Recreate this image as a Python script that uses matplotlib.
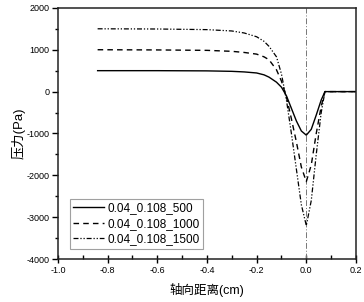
import numpy as np
import matplotlib.pyplot as plt
from matplotlib.ticker import MultipleLocator

plt.rcParams['font.family'] = ['Liberation Sans', 'Noto Sans CJK SC', 'DejaVu Sans']
plt.rcParams['axes.unicode_minus'] = False

# axial distance (cm) and pressure (Pa)
x_500 = [-0.84, -0.6, -0.4, -0.3, -0.25, -0.2, -0.17, -0.15, -0.12, -0.1, -0.08, -0.06, -0.04,
         -0.02, 0.0, 0.02, 0.04, 0.06, 0.075, 0.2]
p_500 = [500, 500, 495, 484, 470, 445, 400, 345, 225, 105, -100, -400, -700,
         -940, -1040, -900, -560, -200, 0, 0]

x_1000 = [-0.84, -0.6, -0.4, -0.3, -0.25, -0.2, -0.17, -0.15, -0.12, -0.1, -0.08, -0.06, -0.04,
          -0.02, 0.0, 0.02, 0.04, 0.06, 0.075, 0.2]
p_1000 = [1000, 995, 985, 962, 935, 895, 830, 760, 520, 250, -130, -650, -1200,
          -1800, -2150, -1750, -1000, -350, 0, 0]

x_1500 = [-0.84, -0.6, -0.4, -0.3, -0.25, -0.2, -0.17, -0.15, -0.12, -0.1, -0.08, -0.06, -0.04,
          -0.02, 0.0, 0.02, 0.04, 0.06, 0.075, 0.2]
p_1500 = [1500, 1495, 1480, 1448, 1400, 1310, 1200, 1080, 830, 420, -200, -1000, -1850,
          -2700, -3200, -2600, -1500, -500, 0, 0]

labels = ['0.04_0.108_500', '0.04_0.108_1000', '0.04_0.108_1500']

fig = plt.figure(figsize=(3.64, 3.02), dpi=100)
ax = fig.add_axes([0.159, 0.142, 0.819, 0.832])

ax.axvline(0, color='#777777', lw=0.7, ls=(0, (6, 2, 1, 2)))
ax.plot(x_500, p_500, color='black', lw=1.0, label=labels[0])
ax.plot(x_1000, p_1000, color='black', lw=1.0, ls=(0, (4, 3)), label=labels[1])
ax.plot(x_1500, p_1500, color='black', lw=0.9, ls=(0, (4, 1.5, 1, 1.5, 1, 1.5)), label=labels[2])

ax.set_xlim(-1.0, 0.2)
ax.set_ylim(-4000, 2000)
ax.xaxis.set_major_locator(MultipleLocator(0.2))
ax.xaxis.set_minor_locator(MultipleLocator(0.1))
ax.yaxis.set_major_locator(MultipleLocator(1000))
ax.yaxis.set_minor_locator(MultipleLocator(500))
ax.xaxis.set_major_formatter(plt.FuncFormatter(lambda v, p: '%.1f' % v))

ax.tick_params(axis='x', which='major', direction='inout', length=6, width=1, labelsize=6.5, pad=2)
ax.tick_params(axis='x', which='minor', direction='in', length=3, width=1)
ax.tick_params(axis='y', which='major', direction='out', length=4, width=1, labelsize=6.5, pad=2)
ax.tick_params(axis='y', which='minor', direction='out', length=2, width=1)

for s in ax.spines.values():
    s.set_linewidth(1.1)
    s.set_color('#222222')

ax.set_xlabel('轴向距离(cm)', fontsize=9, labelpad=6)
ax.set_ylabel('压力(Pa)', fontsize=9.5, labelpad=1)

leg = ax.legend(loc='lower left', bbox_to_anchor=(0.04, 0.04), fontsize=8.5,
                frameon=True, fancybox=False, handlelength=2.6, handletextpad=0.3,
                borderpad=0.3, labelspacing=0.3, borderaxespad=0)
leg.get_frame().set_edgecolor('#888888')
leg.get_frame().set_linewidth(0.8)

fig.savefig('out.png', dpi=100)
